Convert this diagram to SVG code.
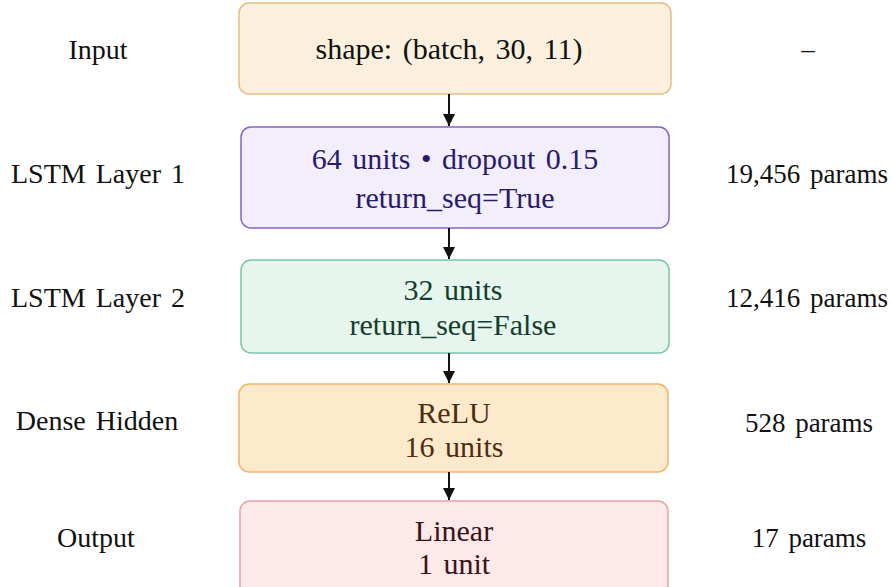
<svg xmlns="http://www.w3.org/2000/svg" width="892" height="587" viewBox="0 0 892 587">
<defs>
<marker id="ah" viewBox="0 0 10 10" refX="10" refY="5" markerWidth="6" markerHeight="6" orient="auto" markerUnits="strokeWidth">
<path d="M0,0 L10,5 L0,10 z" fill="#111"/>
</marker>
<style>
.t{text-anchor:middle;word-spacing:3px}
.l{font-size:28px;fill:#111}
.r{font-size:27px;fill:#111}
.b{font-size:30px}
.box{stroke-width:1.5}
.conn{stroke:#111;stroke-width:2;fill:none}
</style>
</defs>
<rect width="892" height="587" fill="#ffffff"/>
<g font-family="'Liberation Serif', 'Times New Roman', Times, serif">
<g id="labels-left">
<text class="t l" x="98" y="59">Input</text>
<text class="t l" x="98" y="183">LSTM Layer 1</text>
<text class="t l" x="98" y="307">LSTM Layer 2</text>
<text class="t l" x="97" y="430">Dense Hidden</text>
<text class="t l" x="96" y="547">Output</text>
</g>
<g id="labels-right">
<text class="t r" x="808" y="58">–</text>
<text class="t r" x="807" y="183">19,456 params</text>
<text class="t r" x="807" y="307">12,416 params</text>
<text class="t r" x="809" y="432">528 params</text>
<text class="t r" x="809" y="547">17 params</text>
</g>
<g id="node-input">
<rect class="box" x="239" y="3" width="432" height="91" rx="10" fill="#fbf0de" stroke="#e3bd82"/>
<text class="t b" x="449" y="59" fill="#111">shape: (batch, 30, 11)</text>
</g>
<g id="node-lstm1">
<rect class="box" x="241" y="127" width="428" height="101" rx="10" fill="#f2eefc" stroke="#8466c4"/>
<text class="t b" x="455" y="169" fill="#2a1a6a">64 units • dropout 0.15</text>
<text class="t b" x="455" y="208" fill="#2a1a6a">return_seq=True</text>
</g>
<g id="node-lstm2">
<rect class="box" x="241" y="260" width="428" height="93" rx="10" fill="#e6f5ee" stroke="#7cc4a6"/>
<text class="t b" x="453" y="300" fill="#143e2c">32 units</text>
<text class="t b" x="453" y="335" fill="#143e2c">return_seq=False</text>
</g>
<g id="node-dense">
<rect class="box" x="239" y="384" width="429" height="88" rx="10" fill="#fde9cc" stroke="#f1b465"/>
<text class="t b" x="454" y="423" fill="#4e2c10">ReLU</text>
<text class="t b" x="454" y="457" fill="#4e2c10">16 units</text>
</g>
<g id="node-output">
<rect class="box" x="240" y="501" width="428" height="100" rx="10" fill="#fde8ea" stroke="#e9a0a6"/>
<text class="t b" x="454" y="541" fill="#3a1414">Linear</text>
<text class="t b" x="454" y="574" fill="#3a1414">1 unit</text>
</g>
</g>
<g id="connectors">
<line class="conn" x1="449" y1="94" x2="449" y2="126" marker-end="url(#ah)"/>
<line class="conn" x1="449" y1="228" x2="449" y2="259" marker-end="url(#ah)"/>
<line class="conn" x1="449" y1="353" x2="449" y2="383" marker-end="url(#ah)"/>
<line class="conn" x1="449" y1="472" x2="449" y2="500" marker-end="url(#ah)"/>
</g>
</svg>
